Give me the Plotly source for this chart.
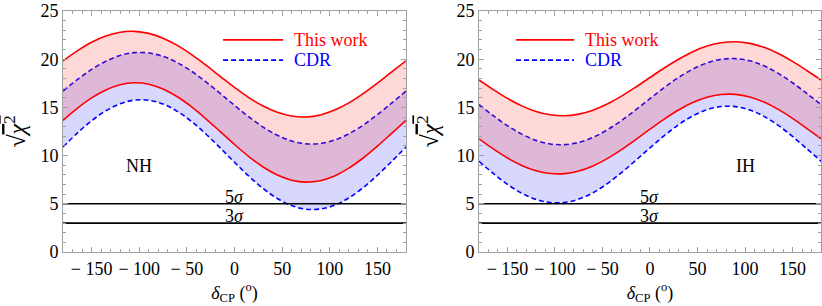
import plotly.graph_objects as go

delta = [-180, -165, -150, -135, -120, -105, -90, -75, -60, -45, -30, -15, 0,
         15, 30, 45, 60, 75, 90, 105, 120, 135, 150, 165, 180]

# Normal hierarchy (NH)
nh_this_upper = [19.83, 20.87, 21.76, 22.41, 22.80, 22.89, 22.68, 22.18, 21.43, 20.47, 19.38, 18.22, 17.07,
                 16.02, 15.14, 14.49, 14.10, 14.01, 14.22, 14.72, 15.47, 16.43, 17.52, 18.68, 19.83]
nh_this_lower = [13.65, 14.90, 15.98, 16.81, 17.35, 17.55, 17.40, 16.91, 16.10, 15.05, 13.82, 12.49, 11.15,
                 9.90, 8.82, 7.99, 7.45, 7.25, 7.40, 7.89, 8.70, 9.75, 10.98, 12.31, 13.65]
nh_cdr_upper = [16.69, 17.88, 18.94, 19.79, 20.39, 20.68, 20.64, 20.29, 19.64, 18.74, 17.65, 16.45, 15.21,
                14.02, 12.96, 12.11, 11.51, 11.22, 11.26, 11.61, 12.26, 13.16, 14.25, 15.45, 16.69]
nh_cdr_lower = [10.89, 12.33, 13.61, 14.65, 15.38, 15.76, 15.74, 15.35, 14.59, 13.53, 12.24, 10.80, 9.31,
                7.87, 6.59, 5.55, 4.82, 4.44, 4.46, 4.85, 5.61, 6.67, 7.96, 9.40, 10.89]

# Inverted hierarchy (IH)
ih_this_upper = [17.84, 16.85, 15.93, 15.16, 14.58, 14.23, 14.13, 14.30, 14.71, 15.35, 16.17, 17.11, 18.10,
                 19.09, 20.00, 20.78, 21.36, 21.71, 21.81, 21.64, 21.23, 20.59, 19.77, 18.83, 17.84]
ih_this_lower = [11.74, 10.69, 9.75, 8.98, 8.43, 8.14, 8.13, 8.40, 8.93, 9.69, 10.62, 11.66, 12.74,
                 13.79, 14.73, 15.50, 16.05, 16.34, 16.35, 16.08, 15.55, 14.79, 13.86, 12.82, 11.74]
ih_cdr_upper = [15.29, 14.14, 13.10, 12.23, 11.58, 11.21, 11.14, 11.37, 11.89, 12.67, 13.64, 14.75, 15.91,
                17.06, 18.10, 18.97, 19.62, 19.99, 20.06, 19.83, 19.31, 18.53, 17.56, 16.45, 15.29]
ih_cdr_lower = [9.41, 8.15, 7.02, 6.10, 5.46, 5.13, 5.14, 5.49, 6.15, 7.09, 8.23, 9.50, 10.81,
                12.07, 13.20, 14.12, 14.76, 15.09, 15.08, 14.73, 14.07, 13.13, 11.99, 10.72, 9.41]

sigma_levels = [5, 3]
sigma_labels = ["5<i>σ</i>", "3<i>σ</i>"]
x_ticks = [-150, -100, -50, 0, 50, 100, 150]
y_ticks = [0, 5, 10, 15, 20, 25]

RED = "#ff0000"
BLUE = "#0000ff"
FONT = "Liberation Serif, Times New Roman, serif"

fig = go.Figure()

panels = [
    ("x", "y", nh_this_upper, nh_this_lower, nh_cdr_upper, nh_cdr_lower),
    ("x2", "y2", ih_this_upper, ih_this_lower, ih_cdr_upper, ih_cdr_lower),
]

for xa, ya, tu, tl, cu, cl in panels:
    # CDR band
    fig.add_trace(go.Scatter(x=delta, y=cl, xaxis=xa, yaxis=ya, mode="lines",
                             line=dict(color=BLUE, width=1.6, dash="5px,3px", shape="spline"),
                             showlegend=False, hoverinfo="skip"))
    fig.add_trace(go.Scatter(x=delta, y=cu, xaxis=xa, yaxis=ya, mode="lines", fill="tonexty",
                             fillcolor="rgba(60,60,255,0.2)",
                             line=dict(color=BLUE, width=1.6, dash="5px,3px", shape="spline"),
                             showlegend=False, hoverinfo="skip"))
    # This work band
    fig.add_trace(go.Scatter(x=delta, y=tl, xaxis=xa, yaxis=ya, mode="lines",
                             line=dict(color=RED, width=1.6, shape="spline"),
                             showlegend=False, hoverinfo="skip"))
    fig.add_trace(go.Scatter(x=delta, y=tu, xaxis=xa, yaxis=ya, mode="lines", fill="tonexty",
                             fillcolor="rgba(255,60,60,0.2)",
                             line=dict(color=RED, width=1.6, shape="spline"),
                             showlegend=False, hoverinfo="skip"))
    # sigma lines
    for lvl, lab in zip(sigma_levels, sigma_labels):
        fig.add_trace(go.Scatter(x=[delta[0], delta[-1]], y=[lvl, lvl], xaxis=xa, yaxis=ya, mode="lines",
                                 line=dict(color="black", width=1.6), showlegend=False, hoverinfo="skip"))
        fig.add_annotation(x=0, y=lvl, xref=xa, yref=ya, text=lab, showarrow=False,
                           yanchor="bottom", yshift=-5, font=dict(family=FONT, size=18, color="black"))

# hierarchy labels
fig.add_annotation(x=-100, y=8.9, xref="x", yref="y", text="NH", showarrow=False,
                   font=dict(family=FONT, size=18, color="black"))
fig.add_annotation(x=100, y=8.9, xref="x2", yref="y2", text="IH", showarrow=False,
                   font=dict(family=FONT, size=18, color="black"))

# legends drawn as line samples + text
legend_pos = [("x", "y", -12, 51), ("x2", "y2", -141, -80)]
for xa, ya, x0, x1 in legend_pos:
    fig.add_shape(type="line", xref=xa, yref=ya, x0=x0, x1=x1, y0=22.0, y1=22.0,
                  line=dict(color=RED, width=1.6))
    fig.add_shape(type="line", xref=xa, yref=ya, x0=x0, x1=x1, y0=19.9, y1=19.9,
                  line=dict(color=BLUE, width=1.6, dash="5px,3px"))
    fig.add_annotation(x=x1 + 9, y=22.0, xref=xa, yref=ya, text="This work", showarrow=False,
                       xanchor="left", font=dict(family=FONT, size=18, color=RED))
    fig.add_annotation(x=x1 + 9, y=19.9, xref=xa, yref=ya, text="CDR", showarrow=False,
                       xanchor="left", font=dict(family=FONT, size=18, color=BLUE))

axis_common = dict(showline=True, mirror="allticks", linecolor="#a0a0a0", linewidth=1,
                   ticks="inside", tickcolor="#a0a0a0", ticklen=5, tickwidth=1,
                   showgrid=False, zeroline=False,
                   tickfont=dict(family=FONT, size=18, color="black"))

xaxis_cfg = dict(axis_common, range=[-180, 180], tickvals=x_ticks,
                 ticktext=[("− " + str(abs(v))) if v < 0 else str(v) for v in x_ticks],
                 minor=dict(ticks="inside", dtick=10, tick0=0, ticklen=3, tickcolor="#a0a0a0", showgrid=False),
                 title=dict(text="<i>δ</i><sub>CP</sub> (<sup>o</sup>)", standoff=8,
                            font=dict(family=FONT, size=18, color="black")))
yaxis_cfg = dict(axis_common, range=[0, 25], tickvals=y_ticks,
                 minor=dict(ticks="inside", dtick=1, tick0=0, ticklen=3, tickcolor="#a0a0a0", showgrid=False),
                 title=dict(text="√<span style='text-decoration:overline'><i>χ</i><sup>2</sup></span>",
                            standoff=10, font=dict(family=FONT, size=24, color="black")))

fig.update_layout(
    width=822, height=306,
    margin=dict(l=63, r=1, t=11, b=54),
    plot_bgcolor="white", paper_bgcolor="white",
    font=dict(family=FONT, size=18, color="black"),
    xaxis=dict(xaxis_cfg, domain=[0, 0.4525], anchor="y"),
    yaxis=dict(yaxis_cfg, domain=[0, 1], anchor="x"),
    xaxis2=dict(xaxis_cfg, domain=[0.5488, 1], anchor="y2"),
    yaxis2=dict(yaxis_cfg, domain=[0, 1], anchor="x2"),
    showlegend=False,
)

fig.write_html("out.html", config={"displayModeBar": False},
               post_script="document.body.style.margin='0';document.body.style.overflow='hidden';")
